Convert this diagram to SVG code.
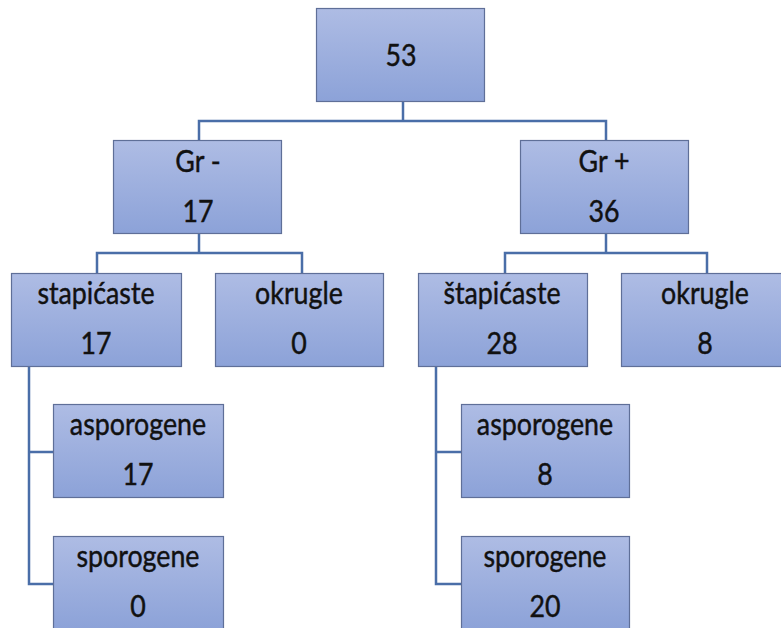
<svg xmlns="http://www.w3.org/2000/svg" width="781" height="628" viewBox="0 0 781 628">
<defs>
<linearGradient id="g" x1="0" y1="0" x2="0" y2="1">
<stop offset="0" stop-color="#aebce4"/>
<stop offset="1" stop-color="#8ca2d8"/>
</linearGradient>
<style>
.box{fill:url(#g);stroke:#5f6f98;stroke-width:1.2}
.t{font-family:Lato,"Open Sans",sans-serif;font-size:31.5px;fill:#111;stroke:#111;stroke-width:0.45;text-anchor:middle}
.c{fill:none;stroke:#4a6ea8;stroke-width:2.5}
</style>
</defs>
<rect width="781" height="628" fill="#fff"/>
<g id="connectors">
<path class="c" d="M403 101V121" stroke-width="3.5"/>
<path class="c" d="M199 140V121H606V140"/>
<path class="c" d="M199 233V253"/>
<path class="c" d="M97 273V253H302V273"/>
<path class="c" d="M606 233V253"/>
<path class="c" d="M505 273V253H707V273"/>
<path class="c" d="M29 366V584H53M29 452H53"/>
<path class="c" d="M436 366V584H461M436 452H461"/>
</g>
<g id="n53"><rect class="box" x="316.5" y="8.5" width="168" height="93"/>
<text class="t" transform="translate(401,66) scale(0.85,1)">53</text></g>
<g id="grneg"><rect class="box" x="113.5" y="140.5" width="168" height="93"/>
<text class="t" transform="translate(198,172) scale(0.85,1)">Gr -</text>
<text class="t" transform="translate(198,222) scale(0.85,1)">17</text></g>
<g id="grpos"><rect class="box" x="520.5" y="140.5" width="168" height="93"/>
<text class="t" transform="translate(604,172) scale(0.85,1)">Gr +</text>
<text class="t" transform="translate(604,222) scale(0.85,1)">36</text></g>
<g id="stap-left"><rect class="box" x="11.5" y="273.5" width="170" height="93"/>
<text class="t" transform="translate(96,304) scale(0.85,1)">stapićaste</text>
<text class="t" transform="translate(96,354) scale(0.85,1)">17</text></g>
<g id="okr-left"><rect class="box" x="215.5" y="273.5" width="168" height="93"/>
<text class="t" transform="translate(299,304) scale(0.85,1)">okrugle</text>
<text class="t" transform="translate(299,354) scale(0.85,1)">0</text></g>
<g id="stap-right"><rect class="box" x="418.5" y="273.5" width="169" height="93"/>
<text class="t" transform="translate(502,304) scale(0.85,1)">štapićaste</text>
<text class="t" transform="translate(502,354) scale(0.85,1)">28</text></g>
<g id="okr-right"><rect class="box" x="621.5" y="273.5" width="168" height="93"/>
<text class="t" transform="translate(705,304) scale(0.85,1)">okrugle</text>
<text class="t" transform="translate(705,354) scale(0.85,1)">8</text></g>
<g id="asp-left"><rect class="box" x="53.5" y="404.5" width="170" height="93"/>
<text class="t" transform="translate(138,435) scale(0.85,1)">asporogene</text>
<text class="t" transform="translate(138,485) scale(0.85,1)">17</text></g>
<g id="spo-left"><rect class="box" x="53.5" y="536.5" width="170" height="93"/>
<text class="t" transform="translate(138,567) scale(0.85,1)">sporogene</text>
<text class="t" transform="translate(138,617) scale(0.85,1)">0</text></g>
<g id="asp-right"><rect class="box" x="461.5" y="404.5" width="168" height="93"/>
<text class="t" transform="translate(545,435) scale(0.85,1)">asporogene</text>
<text class="t" transform="translate(545,485) scale(0.85,1)">8</text></g>
<g id="spo-right"><rect class="box" x="461.5" y="536.5" width="168" height="93"/>
<text class="t" transform="translate(545,567) scale(0.85,1)">sporogene</text>
<text class="t" transform="translate(545,617) scale(0.85,1)">20</text></g>
</svg>
